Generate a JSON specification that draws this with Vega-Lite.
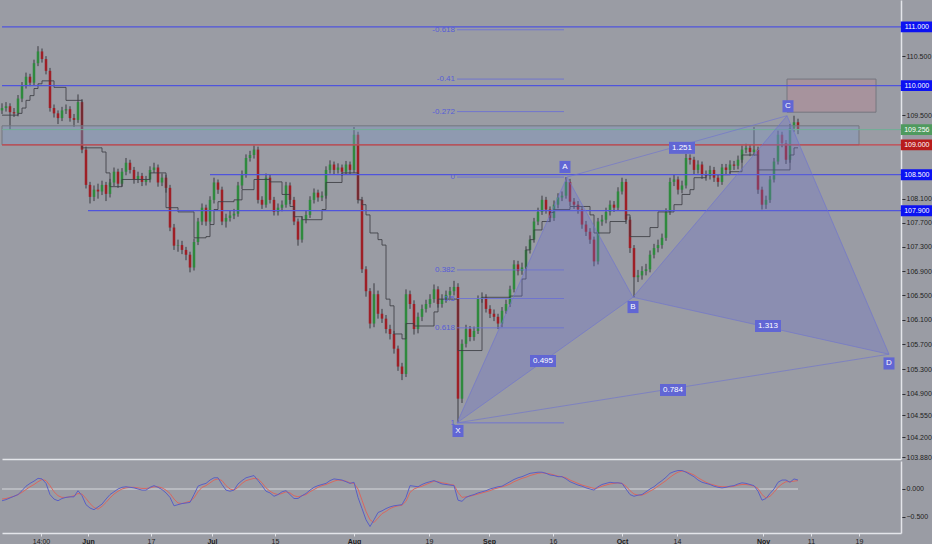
{
  "$schema": "https://vega.github.io/schema/vega-lite/v6.json",
  "description": "USDJPY price chart with XABCD harmonic pattern, fib levels and oscillator",
  "background": "#9a9ca4",
  "padding": 0,
  "spacing": 0,
  "config": {
    "view": {"stroke": null},
    "font": "Liberation Sans",
    "axis": {"labelFont": "Liberation Sans", "labelFontSize": 7, "labelColor": "#1e1e22", "grid": false, "title": null}
  },
  "datasets": {
    "bars": [
      {"i":0,"o":109.58,"h":109.70,"l":109.52,"c":109.62,"k":109.50,"m":-0.21,"s":-0.18},
      {"i":1,"o":109.62,"h":109.72,"l":109.56,"c":109.65,"k":109.50,"m":-0.19,"s":-0.17},
      {"i":2,"o":109.65,"h":109.70,"l":109.25,"c":109.55,"k":109.50,"m":-0.16,"s":-0.15},
      {"i":3,"o":109.55,"h":109.62,"l":109.47,"c":109.53,"k":109.50,"m":-0.13,"s":-0.13},
      {"i":4,"o":109.53,"h":109.84,"l":109.48,"c":109.78,"k":109.53,"m":-0.10,"s":-0.10},
      {"i":5,"o":109.78,"h":110.06,"l":109.72,"c":110.00,"k":109.62,"m":-0.03,"s":-0.06},
      {"i":6,"o":110.00,"h":110.22,"l":109.95,"c":110.15,"k":109.75,"m":0.05,"s":-0.01},
      {"i":7,"o":110.15,"h":110.20,"l":109.99,"c":110.05,"k":109.83,"m":0.10,"s":0.04},
      {"i":8,"o":110.05,"h":110.44,"l":110.00,"c":110.38,"k":109.95,"m":0.14,"s":0.08},
      {"i":9,"o":110.38,"h":110.67,"l":110.33,"c":110.58,"k":110.03,"m":0.19,"s":0.13},
      {"i":10,"o":110.58,"h":110.63,"l":110.39,"c":110.45,"k":110.08,"m":0.18,"s":0.17},
      {"i":11,"o":110.45,"h":110.50,"l":110.19,"c":110.25,"k":110.08,"m":0.10,"s":0.15},
      {"i":12,"o":110.25,"h":110.30,"l":109.56,"c":109.62,"k":110.08,"m":-0.10,"s":0.06},
      {"i":13,"o":109.62,"h":109.68,"l":109.46,"c":109.53,"k":109.97,"m":-0.18,"s":-0.05},
      {"i":14,"o":109.53,"h":109.58,"l":109.35,"c":109.45,"k":109.97,"m":-0.21,"s":-0.12},
      {"i":15,"o":109.45,"h":109.64,"l":109.40,"c":109.58,"k":109.97,"m":-0.17,"s":-0.15},
      {"i":16,"o":109.58,"h":109.68,"l":109.52,"c":109.60,"k":109.75,"m":-0.15,"s":-0.15},
      {"i":17,"o":109.60,"h":109.65,"l":109.39,"c":109.45,"k":109.75,"m":-0.14,"s":-0.14},
      {"i":18,"o":109.45,"h":109.52,"l":109.30,"c":109.42,"k":109.75,"m":-0.14,"s":-0.12},
      {"i":19,"o":109.42,"h":109.85,"l":109.37,"c":109.72,"k":109.75,"m":-0.03,"s":-0.08},
      {"i":20,"o":109.72,"h":109.77,"l":108.86,"c":108.92,"k":108.95,"m":-0.12,"s":-0.09},
      {"i":21,"o":108.92,"h":108.97,"l":108.27,"c":108.33,"k":108.95,"m":-0.28,"s":-0.17},
      {"i":22,"o":108.33,"h":108.38,"l":108.02,"c":108.13,"k":108.95,"m":-0.34,"s":-0.26},
      {"i":23,"o":108.13,"h":108.32,"l":108.06,"c":108.25,"k":108.95,"m":-0.37,"s":-0.33},
      {"i":24,"o":108.25,"h":108.35,"l":108.10,"c":108.22,"k":108.95,"m":-0.32,"s":-0.36},
      {"i":25,"o":108.22,"h":108.40,"l":108.16,"c":108.33,"k":108.88,"m":-0.27,"s":-0.31},
      {"i":26,"o":108.33,"h":108.38,"l":108.06,"c":108.18,"k":108.53,"m":-0.18,"s":-0.24},
      {"i":27,"o":108.18,"h":108.43,"l":108.12,"c":108.37,"k":108.30,"m":-0.10,"s":-0.16},
      {"i":28,"o":108.37,"h":108.62,"l":108.31,"c":108.55,"k":108.30,"m":-0.05,"s":-0.09},
      {"i":29,"o":108.55,"h":108.60,"l":108.28,"c":108.35,"k":108.30,"m":0.00,"s":-0.04},
      {"i":30,"o":108.35,"h":108.61,"l":108.30,"c":108.55,"k":108.42,"m":0.03,"s":0.00},
      {"i":31,"o":108.55,"h":108.78,"l":108.49,"c":108.70,"k":108.42,"m":0.04,"s":0.02},
      {"i":32,"o":108.70,"h":108.75,"l":108.52,"c":108.58,"k":108.42,"m":0.03,"s":0.03},
      {"i":33,"o":108.58,"h":108.63,"l":108.35,"c":108.42,"k":108.42,"m":0.02,"s":0.03},
      {"i":34,"o":108.42,"h":108.55,"l":108.36,"c":108.48,"k":108.42,"m":0.00,"s":0.02},
      {"i":35,"o":108.48,"h":108.53,"l":108.31,"c":108.38,"k":108.42,"m":-0.02,"s":0.01},
      {"i":36,"o":108.38,"h":108.48,"l":108.32,"c":108.42,"k":108.42,"m":-0.02,"s":0.01},
      {"i":37,"o":108.42,"h":108.64,"l":108.37,"c":108.58,"k":108.53,"m":0.03,"s":0.02},
      {"i":38,"o":108.58,"h":108.70,"l":108.53,"c":108.62,"k":108.53,"m":0.06,"s":0.04},
      {"i":39,"o":108.62,"h":108.67,"l":108.30,"c":108.37,"k":108.53,"m":0.03,"s":0.04},
      {"i":40,"o":108.37,"h":108.52,"l":108.31,"c":108.45,"k":108.53,"m":-0.01,"s":0.02},
      {"i":41,"o":108.45,"h":108.50,"l":108.20,"c":108.28,"k":107.95,"m":-0.07,"s":-0.02},
      {"i":42,"o":108.28,"h":108.33,"l":107.56,"c":107.62,"k":107.95,"m":-0.15,"s":-0.08},
      {"i":43,"o":107.62,"h":107.68,"l":107.25,"c":107.32,"k":107.95,"m":-0.30,"s":-0.18},
      {"i":44,"o":107.32,"h":107.42,"l":107.22,"c":107.33,"k":107.88,"m":-0.28,"s":-0.25},
      {"i":45,"o":107.33,"h":107.40,"l":107.18,"c":107.25,"k":107.88,"m":-0.26,"s":-0.26},
      {"i":46,"o":107.25,"h":107.30,"l":107.08,"c":107.17,"k":107.88,"m":-0.25,"s":-0.24},
      {"i":47,"o":107.17,"h":107.22,"l":106.88,"c":106.96,"k":107.88,"m":-0.24,"s":-0.22},
      {"i":48,"o":106.96,"h":107.44,"l":106.91,"c":107.38,"k":107.45,"m":-0.10,"s":-0.16},
      {"i":49,"o":107.38,"h":107.78,"l":107.33,"c":107.72,"k":107.45,"m":0.05,"s":-0.05},
      {"i":50,"o":107.72,"h":108.02,"l":107.66,"c":107.95,"k":107.45,"m":0.08,"s":0.03},
      {"i":51,"o":107.95,"h":108.00,"l":107.65,"c":107.72,"k":107.47,"m":0.10,"s":0.06},
      {"i":52,"o":107.72,"h":108.14,"l":107.67,"c":108.08,"k":107.67,"m":0.16,"s":0.11},
      {"i":53,"o":108.08,"h":108.45,"l":108.02,"c":108.37,"k":107.92,"m":0.20,"s":0.16},
      {"i":54,"o":108.37,"h":108.42,"l":108.18,"c":108.25,"k":108.05,"m":0.20,"s":0.18},
      {"i":55,"o":108.25,"h":108.30,"l":107.66,"c":107.72,"k":108.05,"m":0.08,"s":0.15},
      {"i":56,"o":107.72,"h":107.85,"l":107.62,"c":107.78,"k":108.05,"m":-0.02,"s":0.06},
      {"i":57,"o":107.78,"h":107.90,"l":107.72,"c":107.82,"k":108.05,"m":-0.04,"s":0.00},
      {"i":58,"o":107.82,"h":107.93,"l":107.76,"c":107.85,"k":108.08,"m":-0.02,"s":-0.02},
      {"i":59,"o":107.85,"h":108.38,"l":107.80,"c":108.32,"k":108.08,"m":0.09,"s":0.03},
      {"i":60,"o":108.32,"h":108.57,"l":108.26,"c":108.50,"k":108.25,"m":0.15,"s":0.10},
      {"i":61,"o":108.50,"h":108.84,"l":108.45,"c":108.78,"k":108.25,"m":0.20,"s":0.15},
      {"i":62,"o":108.78,"h":108.90,"l":108.72,"c":108.83,"k":108.25,"m":0.22,"s":0.17},
      {"i":63,"o":108.83,"h":108.99,"l":108.77,"c":108.92,"k":108.42,"m":0.24,"s":0.19},
      {"i":64,"o":108.92,"h":108.97,"l":108.02,"c":108.08,"k":108.42,"m":0.15,"s":0.18},
      {"i":65,"o":108.08,"h":108.14,"l":107.93,"c":108.00,"k":108.42,"m":0.06,"s":0.11},
      {"i":66,"o":108.00,"h":108.52,"l":107.95,"c":108.45,"k":108.42,"m":-0.04,"s":0.02},
      {"i":67,"o":108.45,"h":108.50,"l":108.02,"c":108.08,"k":108.38,"m":-0.07,"s":-0.04},
      {"i":68,"o":108.08,"h":108.13,"l":107.82,"c":107.88,"k":108.38,"m":-0.13,"s":-0.08},
      {"i":69,"o":107.88,"h":108.02,"l":107.82,"c":107.95,"k":108.38,"m":-0.10,"s":-0.10},
      {"i":70,"o":107.95,"h":108.07,"l":107.89,"c":108.00,"k":108.17,"m":-0.05,"s":-0.08},
      {"i":71,"o":108.00,"h":108.38,"l":107.95,"c":108.32,"k":108.17,"m":-0.03,"s":-0.05},
      {"i":72,"o":108.32,"h":108.37,"l":108.01,"c":108.08,"k":107.97,"m":-0.10,"s":-0.07},
      {"i":73,"o":108.08,"h":108.13,"l":107.66,"c":107.72,"k":107.80,"m":-0.17,"s":-0.12},
      {"i":74,"o":107.72,"h":107.77,"l":107.32,"c":107.42,"k":107.80,"m":-0.17,"s":-0.14},
      {"i":75,"o":107.42,"h":107.81,"l":107.37,"c":107.75,"k":107.75,"m":-0.12,"s":-0.12},
      {"i":76,"o":107.75,"h":107.90,"l":107.69,"c":107.83,"k":107.75,"m":-0.08,"s":-0.10},
      {"i":77,"o":107.83,"h":108.14,"l":107.78,"c":108.08,"k":107.75,"m":-0.02,"s":-0.05},
      {"i":78,"o":108.08,"h":108.27,"l":108.02,"c":108.20,"k":107.75,"m":0.03,"s":-0.01},
      {"i":79,"o":108.20,"h":108.25,"l":108.05,"c":108.12,"k":107.75,"m":0.06,"s":0.03},
      {"i":80,"o":108.12,"h":108.22,"l":108.06,"c":108.15,"k":107.92,"m":0.08,"s":0.06},
      {"i":81,"o":108.15,"h":108.64,"l":108.10,"c":108.58,"k":108.37,"m":0.10,"s":0.08},
      {"i":82,"o":108.58,"h":108.74,"l":108.52,"c":108.67,"k":108.37,"m":0.15,"s":0.11},
      {"i":83,"o":108.67,"h":108.72,"l":108.51,"c":108.58,"k":108.37,"m":0.18,"s":0.14},
      {"i":84,"o":108.58,"h":108.69,"l":108.52,"c":108.62,"k":108.37,"m":0.17,"s":0.16},
      {"i":85,"o":108.62,"h":108.67,"l":108.48,"c":108.55,"k":108.53,"m":0.16,"s":0.15},
      {"i":86,"o":108.55,"h":108.73,"l":108.50,"c":108.67,"k":108.53,"m":0.13,"s":0.14},
      {"i":87,"o":108.67,"h":108.72,"l":108.51,"c":108.58,"k":108.53,"m":0.10,"s":0.11},
      {"i":88,"o":108.58,"h":109.30,"l":108.53,"c":109.17,"k":108.53,"m":0.12,"s":0.10},
      {"i":89,"o":109.17,"h":109.22,"l":108.02,"c":108.08,"k":108.08,"m":-0.15,"s":0.00},
      {"i":90,"o":108.08,"h":108.13,"l":106.87,"c":106.93,"k":108.00,"m":-0.35,"s":-0.20},
      {"i":91,"o":106.93,"h":106.98,"l":106.48,"c":106.57,"k":107.83,"m":-0.55,"s":-0.40},
      {"i":92,"o":106.57,"h":106.62,"l":105.96,"c":106.04,"k":107.53,"m":-0.67,"s":-0.55},
      {"i":93,"o":106.04,"h":106.70,"l":105.98,"c":106.52,"k":107.53,"m":-0.55,"s":-0.60},
      {"i":94,"o":106.52,"h":106.58,"l":106.12,"c":106.20,"k":107.42,"m":-0.42,"s":-0.52},
      {"i":95,"o":106.20,"h":106.28,"l":106.05,"c":106.12,"k":107.33,"m":-0.39,"s":-0.44},
      {"i":96,"o":106.12,"h":106.18,"l":105.88,"c":105.95,"k":106.44,"m":-0.35,"s":-0.40},
      {"i":97,"o":105.95,"h":106.02,"l":105.78,"c":105.87,"k":106.33,"m":-0.32,"s":-0.35},
      {"i":98,"o":105.87,"h":105.92,"l":105.55,"c":105.63,"k":105.87,"m":-0.30,"s":-0.32},
      {"i":99,"o":105.63,"h":105.68,"l":105.27,"c":105.34,"k":105.87,"m":-0.29,"s":-0.30},
      {"i":100,"o":105.34,"h":105.40,"l":105.12,"c":105.22,"k":105.79,"m":-0.28,"s":-0.29},
      {"i":101,"o":105.22,"h":106.60,"l":105.17,"c":106.52,"k":106.04,"m":-0.15,"s":-0.22},
      {"i":102,"o":106.52,"h":106.58,"l":106.28,"c":106.36,"k":106.04,"m":0.06,"s":-0.06},
      {"i":103,"o":106.36,"h":106.42,"l":105.86,"c":105.95,"k":106.00,"m":0.05,"s":0.00},
      {"i":104,"o":105.95,"h":106.22,"l":105.88,"c":106.15,"k":106.00,"m":0.04,"s":0.03},
      {"i":105,"o":106.15,"h":106.35,"l":106.08,"c":106.28,"k":106.00,"m":0.08,"s":0.05},
      {"i":106,"o":106.28,"h":106.43,"l":106.22,"c":106.36,"k":106.00,"m":0.11,"s":0.08},
      {"i":107,"o":106.36,"h":106.52,"l":106.30,"c":106.44,"k":106.00,"m":0.13,"s":0.11},
      {"i":108,"o":106.44,"h":106.68,"l":106.38,"c":106.60,"k":106.23,"m":0.15,"s":0.14},
      {"i":109,"o":106.60,"h":106.65,"l":106.30,"c":106.36,"k":106.44,"m":0.12,"s":0.13},
      {"i":110,"o":106.36,"h":106.52,"l":106.30,"c":106.44,"k":106.44,"m":0.09,"s":0.11},
      {"i":111,"o":106.44,"h":106.58,"l":106.38,"c":106.51,"k":106.44,"m":0.08,"s":0.10},
      {"i":112,"o":106.51,"h":106.64,"l":106.45,"c":106.57,"k":106.44,"m":0.07,"s":0.08},
      {"i":113,"o":106.57,"h":106.74,"l":106.50,"c":106.64,"k":106.44,"m":0.06,"s":0.07},
      {"i":114,"o":106.64,"h":106.70,"l":104.44,"c":104.82,"k":105.60,"m":-0.20,"s":-0.06},
      {"i":115,"o":104.82,"h":105.78,"l":104.75,"c":105.71,"k":105.60,"m":-0.22,"s":-0.15},
      {"i":116,"o":105.71,"h":106.02,"l":105.65,"c":105.95,"k":105.60,"m":-0.15,"s":-0.14},
      {"i":117,"o":105.95,"h":106.00,"l":105.75,"c":105.82,"k":105.60,"m":-0.12,"s":-0.13},
      {"i":118,"o":105.82,"h":105.99,"l":105.76,"c":105.92,"k":105.60,"m":-0.10,"s":-0.11},
      {"i":119,"o":105.92,"h":106.50,"l":105.87,"c":106.44,"k":105.60,"m":-0.07,"s":-0.09},
      {"i":120,"o":106.44,"h":106.55,"l":106.38,"c":106.47,"k":106.47,"m":-0.05,"s":-0.07},
      {"i":121,"o":106.47,"h":106.52,"l":106.22,"c":106.28,"k":106.47,"m":-0.03,"s":-0.05},
      {"i":122,"o":106.28,"h":106.34,"l":106.13,"c":106.20,"k":106.47,"m":0.00,"s":-0.03},
      {"i":123,"o":106.20,"h":106.27,"l":106.08,"c":106.15,"k":106.47,"m":0.02,"s":0.00},
      {"i":124,"o":106.15,"h":106.20,"l":105.95,"c":106.04,"k":106.47,"m":0.04,"s":0.02},
      {"i":125,"o":106.04,"h":106.31,"l":105.98,"c":106.25,"k":106.47,"m":0.05,"s":0.04},
      {"i":126,"o":106.25,"h":106.43,"l":106.20,"c":106.36,"k":106.47,"m":0.09,"s":0.06},
      {"i":127,"o":106.36,"h":106.66,"l":106.31,"c":106.60,"k":106.49,"m":0.13,"s":0.09},
      {"i":128,"o":106.60,"h":107.08,"l":106.55,"c":107.01,"k":106.49,"m":0.17,"s":0.13},
      {"i":129,"o":107.01,"h":107.07,"l":106.83,"c":106.90,"k":106.49,"m":0.20,"s":0.16},
      {"i":130,"o":106.90,"h":107.04,"l":106.84,"c":106.96,"k":106.77,"m":0.22,"s":0.19},
      {"i":131,"o":106.96,"h":107.31,"l":106.91,"c":107.25,"k":107.25,"m":0.25,"s":0.21},
      {"i":132,"o":107.25,"h":107.49,"l":107.19,"c":107.42,"k":107.42,"m":0.28,"s":0.24},
      {"i":133,"o":107.42,"h":107.78,"l":107.37,"c":107.72,"k":107.58,"m":0.29,"s":0.26},
      {"i":134,"o":107.72,"h":107.95,"l":107.66,"c":107.88,"k":107.58,"m":0.30,"s":0.28},
      {"i":135,"o":107.88,"h":108.15,"l":107.83,"c":108.08,"k":107.72,"m":0.30,"s":0.29},
      {"i":136,"o":108.08,"h":108.13,"l":107.85,"c":107.92,"k":107.72,"m":0.28,"s":0.28},
      {"i":137,"o":107.92,"h":107.97,"l":107.71,"c":107.78,"k":107.87,"m":0.25,"s":0.27},
      {"i":138,"o":107.78,"h":108.07,"l":107.73,"c":108.00,"k":107.92,"m":0.24,"s":0.25},
      {"i":139,"o":108.00,"h":108.19,"l":107.94,"c":108.12,"k":107.92,"m":0.22,"s":0.23},
      {"i":140,"o":108.12,"h":108.22,"l":108.06,"c":108.15,"k":107.92,"m":0.22,"s":0.22},
      {"i":141,"o":108.15,"h":108.46,"l":108.10,"c":108.38,"k":107.92,"m":0.18,"s":0.20},
      {"i":142,"o":108.38,"h":108.43,"l":107.98,"c":108.05,"k":107.97,"m":0.13,"s":0.16},
      {"i":143,"o":108.05,"h":108.11,"l":107.93,"c":108.00,"k":107.97,"m":0.10,"s":0.13},
      {"i":144,"o":108.00,"h":108.06,"l":107.85,"c":107.92,"k":107.97,"m":0.07,"s":0.10},
      {"i":145,"o":107.92,"h":107.97,"l":107.60,"c":107.67,"k":107.97,"m":0.05,"s":0.07},
      {"i":146,"o":107.67,"h":107.73,"l":107.48,"c":107.55,"k":107.97,"m":0.02,"s":0.05},
      {"i":147,"o":107.55,"h":107.61,"l":107.35,"c":107.42,"k":107.83,"m":0.00,"s":0.03},
      {"i":148,"o":107.42,"h":107.47,"l":106.98,"c":107.06,"k":107.53,"m":-0.02,"s":0.01},
      {"i":149,"o":107.06,"h":107.78,"l":107.01,"c":107.72,"k":107.53,"m":0.04,"s":0.02},
      {"i":150,"o":107.72,"h":107.83,"l":107.65,"c":107.75,"k":107.53,"m":0.08,"s":0.05},
      {"i":151,"o":107.75,"h":107.95,"l":107.69,"c":107.88,"k":107.53,"m":0.10,"s":0.07},
      {"i":152,"o":107.88,"h":108.07,"l":107.82,"c":108.00,"k":107.72,"m":0.12,"s":0.09},
      {"i":153,"o":108.00,"h":108.06,"l":107.88,"c":107.95,"k":107.72,"m":0.11,"s":0.10},
      {"i":154,"o":107.95,"h":108.29,"l":107.90,"c":108.22,"k":107.72,"m":0.11,"s":0.11},
      {"i":155,"o":108.22,"h":108.45,"l":108.17,"c":108.38,"k":107.72,"m":0.10,"s":0.10},
      {"i":156,"o":108.38,"h":108.43,"l":107.68,"c":107.75,"k":107.83,"m":0.00,"s":0.05},
      {"i":157,"o":107.75,"h":107.80,"l":107.20,"c":107.28,"k":107.47,"m":-0.10,"s":-0.03},
      {"i":158,"o":107.28,"h":107.33,"l":106.47,"c":106.80,"k":107.47,"m":-0.13,"s":-0.09},
      {"i":159,"o":106.80,"h":106.92,"l":106.72,"c":106.83,"k":107.47,"m":-0.11,"s":-0.11},
      {"i":160,"o":106.83,"h":106.98,"l":106.76,"c":106.90,"k":107.47,"m":-0.10,"s":-0.11},
      {"i":161,"o":106.90,"h":107.02,"l":106.83,"c":106.93,"k":107.47,"m":-0.05,"s":-0.08},
      {"i":162,"o":106.93,"h":107.24,"l":106.88,"c":107.17,"k":107.62,"m":0.00,"s":-0.04},
      {"i":163,"o":107.17,"h":107.35,"l":107.11,"c":107.28,"k":107.62,"m":0.04,"s":0.00},
      {"i":164,"o":107.28,"h":107.42,"l":107.21,"c":107.33,"k":107.88,"m":0.10,"s":0.05},
      {"i":165,"o":107.33,"h":107.52,"l":107.27,"c":107.45,"k":107.88,"m":0.15,"s":0.10},
      {"i":166,"o":107.45,"h":107.94,"l":107.40,"c":107.88,"k":107.88,"m":0.21,"s":0.15},
      {"i":167,"o":107.88,"h":108.45,"l":107.83,"c":108.38,"k":107.88,"m":0.28,"s":0.21},
      {"i":168,"o":108.38,"h":108.50,"l":108.31,"c":108.42,"k":108.00,"m":0.31,"s":0.26},
      {"i":169,"o":108.42,"h":108.47,"l":108.17,"c":108.25,"k":108.00,"m":0.33,"s":0.30},
      {"i":170,"o":108.25,"h":108.40,"l":108.19,"c":108.32,"k":108.17,"m":0.33,"s":0.32},
      {"i":171,"o":108.32,"h":108.85,"l":108.27,"c":108.78,"k":108.17,"m":0.30,"s":0.31},
      {"i":172,"o":108.78,"h":108.84,"l":108.67,"c":108.75,"k":108.25,"m":0.26,"s":0.28},
      {"i":173,"o":108.75,"h":108.80,"l":108.51,"c":108.58,"k":108.45,"m":0.22,"s":0.25},
      {"i":174,"o":108.58,"h":108.74,"l":108.52,"c":108.67,"k":108.45,"m":0.16,"s":0.20},
      {"i":175,"o":108.67,"h":108.72,"l":108.43,"c":108.50,"k":108.45,"m":0.12,"s":0.16},
      {"i":176,"o":108.50,"h":108.57,"l":108.40,"c":108.48,"k":108.50,"m":0.10,"s":0.12},
      {"i":177,"o":108.48,"h":108.65,"l":108.42,"c":108.58,"k":108.50,"m":0.08,"s":0.09},
      {"i":178,"o":108.58,"h":108.63,"l":108.38,"c":108.45,"k":108.50,"m":0.05,"s":0.07},
      {"i":179,"o":108.45,"h":108.51,"l":108.30,"c":108.38,"k":108.50,"m":0.03,"s":0.05},
      {"i":180,"o":108.38,"h":108.68,"l":108.33,"c":108.62,"k":108.50,"m":0.02,"s":0.04},
      {"i":181,"o":108.62,"h":108.68,"l":108.51,"c":108.58,"k":108.50,"m":0.03,"s":0.04},
      {"i":182,"o":108.58,"h":108.74,"l":108.52,"c":108.67,"k":108.55,"m":0.05,"s":0.04},
      {"i":183,"o":108.67,"h":108.73,"l":108.58,"c":108.65,"k":108.55,"m":0.06,"s":0.05},
      {"i":184,"o":108.65,"h":108.82,"l":108.59,"c":108.75,"k":108.55,"m":0.09,"s":0.07},
      {"i":185,"o":108.75,"h":108.99,"l":108.70,"c":108.92,"k":108.83,"m":0.11,"s":0.08},
      {"i":186,"o":108.92,"h":109.02,"l":108.86,"c":108.95,"k":108.83,"m":0.10,"s":0.08},
      {"i":187,"o":108.95,"h":109.00,"l":108.81,"c":108.88,"k":108.83,"m":0.08,"s":0.07},
      {"i":188,"o":108.88,"h":109.30,"l":108.82,"c":108.92,"k":108.83,"m":0.06,"s":0.05},
      {"i":189,"o":108.92,"h":108.97,"l":108.18,"c":108.25,"k":108.58,"m":-0.04,"s":0.01},
      {"i":190,"o":108.25,"h":108.30,"l":107.92,"c":108.00,"k":108.58,"m":-0.20,"s":-0.10},
      {"i":191,"o":108.00,"h":108.15,"l":107.93,"c":108.08,"k":108.58,"m":-0.17,"s":-0.16},
      {"i":192,"o":108.08,"h":108.48,"l":108.03,"c":108.42,"k":108.58,"m":-0.08,"s":-0.13},
      {"i":193,"o":108.42,"h":108.78,"l":108.37,"c":108.72,"k":108.58,"m":0.00,"s":-0.06},
      {"i":194,"o":108.72,"h":109.24,"l":108.67,"c":109.17,"k":108.58,"m":0.12,"s":0.03},
      {"i":195,"o":109.17,"h":109.22,"l":108.96,"c":109.03,"k":108.58,"m":0.16,"s":0.09},
      {"i":196,"o":109.03,"h":109.08,"l":108.68,"c":108.75,"k":108.58,"m":0.16,"s":0.13},
      {"i":197,"o":108.75,"h":109.35,"l":108.70,"c":109.28,"k":108.83,"m":0.12,"s":0.13},
      {"i":198,"o":109.28,"h":109.49,"l":109.22,"c":109.38,"k":108.95,"m":0.18,"s":0.14},
      {"i":199,"o":109.38,"h":109.44,"l":109.18,"c":109.26,"k":108.95,"m":0.16,"s":0.15}
    ],
    "fib": [
      {"lvl":"-0.618","p":110.95},
      {"lvl":"-0.41","p":110.11},
      {"lvl":"-0.272","p":109.56},
      {"lvl":"0","p":108.46},
      {"lvl":"0.382","p":106.92},
      {"lvl":"0.5","p":106.45},
      {"lvl":"0.618","p":105.97},
      {"lvl":"1","p":104.43}
    ],
    "tri": [
      {"tri":"XAB","n":0,"x":113.75,"p":104.43},
      {"tri":"XAB","n":1,"x":141.25,"p":108.46},
      {"tri":"XAB","n":2,"x":157.75,"p":106.47},
      {"tri":"XAB","n":3,"x":113.75,"p":104.43},
      {"tri":"BCD","n":0,"x":157.75,"p":106.47},
      {"tri":"BCD","n":1,"x":196.25,"p":109.49},
      {"tri":"BCD","n":2,"x":221.75,"p":105.54},
      {"tri":"BCD","n":3,"x":157.75,"p":106.47}
    ],
    "legs": [
      {"leg":"AC","n":0,"x":141.25,"p":108.46},
      {"leg":"AC","n":1,"x":196.25,"p":109.49},
      {"leg":"XD","n":0,"x":113.75,"p":104.43},
      {"leg":"XD","n":1,"x":221.75,"p":105.54}
    ],
    "points": [
      {"t":"X","x":114,"p":104.30},
      {"t":"A","x":140.75,"p":108.63},
      {"t":"B","x":157.75,"p":106.31},
      {"t":"C","x":196.5,"p":109.65},
      {"t":"D","x":221.75,"p":105.39}
    ],
    "ratios": [
      {"t":"0.495","x":135.25,"p":105.43},
      {"t":"1.251","x":170,"p":108.95},
      {"t":"1.313","x":191.5,"p":106.0},
      {"t":"0.784","x":167.75,"p":104.96}
    ],
    "levels": [
      {"p":111.0,"from":0},
      {"p":110.0,"from":0},
      {"p":108.5,"from":52},
      {"p":107.9,"from":21.5}
    ],
    "tags": [
      {"p":111.0,"t":"111.000"},
      {"p":110.0,"t":"110.000"},
      {"p":109.256,"t":"109.256"},
      {"p":109.0,"t":"109.000"},
      {"p":108.5,"t":"108.500"},
      {"p":107.9,"t":"107.900"}
    ]
  },
  "resolve": {"scale": {"x": "independent", "y": "independent"}},
  "vconcat": [
    {
      "width": 899,
      "height": 459,
      "encoding": {
        "x": {"type": "quantitative", "scale": {"domain": [0, 224.75], "nice": false, "zero": false, "padding": 0},
              "axis": {"labels": false, "ticks": false, "domain": true, "domainColor": "#e4e5ea", "domainWidth": 1.5, "title": null}}
      },
      "layer": [
        {
          "data": {"name": "bars"},
          "mark": {"type": "rule", "color": "#3a3b40", "strokeWidth": 1},
          "encoding": {
            "x": {"field": "i", "type": "quantitative"},
            "y": {"field": "l", "type": "quantitative",
                  "scale": {"type": "log", "domain": [103.85, 111.46], "nice": false, "zero": false, "padding": 0},
                  "axis": {"orient": "right", "values": [110.5, 109.5, 108.1, 107.7, 107.3, 106.9, 106.5, 106.1, 105.7, 105.3, 104.9, 104.55, 104.2, 103.88],
                           "format": ".3f", "tickSize": 4, "tickColor": "#2c2d33", "labelPadding": 1,
                           "domainColor": "#e4e5ea", "domainWidth": 1.5, "title": null}},
            "y2": {"field": "h"}
          }
        },
        {
          "data": {"name": "bars"},
          "mark": {"type": "bar", "size": 2.5},
          "encoding": {
            "x": {"field": "i", "type": "quantitative"},
            "y": {"field": "o", "type": "quantitative"},
            "y2": {"field": "c"},
            "color": {"condition": {"test": "datum.c >= datum.o", "value": "#2f8a3e"}, "value": "#9e1f26"}
          }
        },
        {
          "data": {"name": "bars"},
          "mark": {"type": "line", "interpolate": "step-after", "color": "#3d3e44", "strokeWidth": 1, "opacity": 0.85},
          "encoding": {
            "x": {"field": "i", "type": "quantitative"},
            "y": {"field": "k", "type": "quantitative"}
          }
        },
        {
          "data": {"values": [{"x0": 0, "x1": 214.25, "p0": 109.0, "p1": 109.32}]},
          "mark": {"type": "rect", "fill": "#7f98c4", "fillOpacity": 0.4, "stroke": "#74767e", "strokeWidth": 1},
          "encoding": {
            "x": {"field": "x0", "type": "quantitative"},
            "x2": {"field": "x1"},
            "y": {"field": "p0", "type": "quantitative"},
            "y2": {"field": "p1"}
          }
        },
        {
          "data": {"values": [{"x0": 196.25, "x1": 218.5, "p0": 109.55, "p1": 110.11}]},
          "mark": {"type": "rect", "fill": "#b88a94", "fillOpacity": 0.45, "stroke": "#74767e", "strokeWidth": 1},
          "encoding": {
            "x": {"field": "x0", "type": "quantitative"},
            "x2": {"field": "x1"},
            "y": {"field": "p0", "type": "quantitative"},
            "y2": {"field": "p1"}
          }
        },
        {
          "data": {"name": "levels"},
          "mark": {"type": "rule", "color": "#4f54dc", "strokeWidth": 1.2},
          "encoding": {
            "x": {"field": "from", "type": "quantitative"},
            "x2": {"datum": 224.75},
            "y": {"field": "p", "type": "quantitative"}
          }
        },
        {
          "data": {"values": [{"p": 109.256}]},
          "mark": {"type": "rule", "color": "#6fae95", "strokeWidth": 1},
          "encoding": {
            "x": {"datum": 0},
            "x2": {"datum": 224.75},
            "y": {"field": "p", "type": "quantitative"}
          }
        },
        {
          "data": {"values": [{"p": 109.0}]},
          "mark": {"type": "rule", "color": "#c8444c", "strokeWidth": 1.2},
          "encoding": {
            "x": {"datum": 0},
            "x2": {"datum": 224.75},
            "y": {"field": "p", "type": "quantitative"}
          }
        },
        {
          "data": {"name": "fib"},
          "mark": {"type": "rule", "color": "#6a6fd6", "strokeWidth": 1, "opacity": 0.85},
          "encoding": {
            "x": {"datum": 113.75},
            "x2": {"datum": 140.5},
            "y": {"field": "p", "type": "quantitative"}
          }
        },
        {
          "data": {"name": "fib"},
          "mark": {"type": "text", "align": "right", "baseline": "middle", "dx": -2, "fontSize": 8, "color": "#575cd8"},
          "encoding": {
            "x": {"datum": 113.75},
            "y": {"field": "p", "type": "quantitative"},
            "text": {"field": "lvl"}
          }
        },
        {
          "data": {"name": "tri"},
          "mark": {"type": "line", "fill": "#6d72cc", "fillOpacity": 0.33, "stroke": "#6e73d0", "strokeWidth": 0.8, "strokeOpacity": 0.8},
          "encoding": {
            "x": {"field": "x", "type": "quantitative"},
            "y": {"field": "p", "type": "quantitative"},
            "detail": {"field": "tri"},
            "order": {"field": "n"}
          }
        },
        {
          "data": {"name": "legs"},
          "mark": {"type": "line", "stroke": "#6e73d0", "strokeWidth": 0.8, "strokeOpacity": 0.8},
          "encoding": {
            "x": {"field": "x", "type": "quantitative"},
            "y": {"field": "p", "type": "quantitative"},
            "detail": {"field": "leg"},
            "order": {"field": "n"}
          }
        },
        {
          "data": {"name": "points"},
          "mark": {"type": "point", "shape": "M-1,-1.1L1,-1.1L1,1.1L-1,1.1Z", "size": 121, "filled": true, "color": "#6166d4", "opacity": 1},
          "encoding": {
            "x": {"field": "x", "type": "quantitative"},
            "y": {"field": "p", "type": "quantitative"}
          }
        },
        {
          "data": {"name": "points"},
          "mark": {"type": "text", "fontSize": 8, "color": "#ffffff", "baseline": "middle", "align": "center"},
          "encoding": {
            "x": {"field": "x", "type": "quantitative"},
            "y": {"field": "p", "type": "quantitative"},
            "text": {"field": "t"}
          }
        },
        {
          "data": {"name": "ratios"},
          "mark": {"type": "point", "shape": "M-1,-0.46L1,-0.46L1,0.46L-1,0.46Z", "size": 676, "filled": true, "color": "#6166d4", "opacity": 1},
          "encoding": {
            "x": {"field": "x", "type": "quantitative"},
            "y": {"field": "p", "type": "quantitative"}
          }
        },
        {
          "data": {"name": "ratios"},
          "mark": {"type": "text", "fontSize": 8, "color": "#ffffff", "baseline": "middle", "align": "center"},
          "encoding": {
            "x": {"field": "x", "type": "quantitative"},
            "y": {"field": "p", "type": "quantitative"},
            "text": {"field": "t"}
          }
        },
        {
          "data": {"name": "tags"},
          "mark": {"type": "point", "shape": "M-1,-0.34L1,-0.34L1,0.34L-1,0.34Z", "size": 1024, "filled": true, "opacity": 1},
          "encoding": {
            "x": {"datum": 228.7},
            "y": {"field": "p", "type": "quantitative"},
            "color": {"condition": [{"test": "datum.p == 109.256", "value": "#4f9a5e"}, {"test": "datum.p == 109", "value": "#b81c1c"}], "value": "#0c12f2"}
          }
        },
        {
          "data": {"name": "tags"},
          "mark": {"type": "text", "fontSize": 7, "color": "#ffffff", "baseline": "middle", "align": "center"},
          "encoding": {
            "x": {"datum": 228.7},
            "y": {"field": "p", "type": "quantitative"},
            "text": {"field": "t"}
          }
        }
      ]
    },
    {
      "width": 899,
      "height": 72,
      "encoding": {
        "x": {"type": "quantitative", "scale": {"domain": [0, 224.75], "nice": false, "zero": false, "padding": 0},
              "axis": {"values": [9.75, 21.5, 37.25, 52.5, 68.25, 88, 106.75, 121.75, 137.75, 155, 168.75, 190.25, 202.25, 214.25],
                       "labelExpr": "['14:00','Jun','17','Jul','15','Aug','19','Sep','16','Oct','14','Nov','11','19'][indexof([9.75,21.5,37.25,52.5,68.25,88,106.75,121.75,137.75,155,168.75,190.25,202.25,214.25], datum.value)]",
                       "labelFontWeight": {"condition": {"test": "indexof([21.5,52.5,88,121.75,155,190.25], datum.value) >= 0", "value": "bold"}, "value": "normal"},
                       "tickSize": 3, "tickColor": "#dfe0e5", "labelPadding": 1, "domainColor": "#e4e5ea", "domainWidth": 1.5, "title": null}}
      },
      "layer": [
        {
          "data": {"values": [{"z": 0}]},
          "mark": {"type": "rule", "color": "#d6d7dc", "strokeWidth": 1.2},
          "encoding": {
            "x": {"datum": 0},
            "x2": {"datum": 199},
            "y": {"field": "z", "type": "quantitative",
                  "scale": {"domain": [-0.786, 0.5], "nice": false, "zero": false},
                  "axis": {"orient": "right", "values": [0, -0.5], "format": ".3f", "tickSize": 4, "tickColor": "#2c2d33",
                           "labelPadding": 1, "domainColor": "#e4e5ea", "domainWidth": 1.5, "title": null}}
          }
        },
        {
          "data": {"name": "bars"},
          "mark": {"type": "line", "color": "#d9675f", "strokeWidth": 1},
          "encoding": {
            "x": {"field": "i", "type": "quantitative"},
            "y": {"field": "s", "type": "quantitative"}
          }
        },
        {
          "data": {"name": "bars"},
          "mark": {"type": "line", "color": "#5a5fc4", "strokeWidth": 1},
          "encoding": {
            "x": {"field": "i", "type": "quantitative"},
            "y": {"field": "m", "type": "quantitative"}
          }
        }
      ]
    }
  ]
}
